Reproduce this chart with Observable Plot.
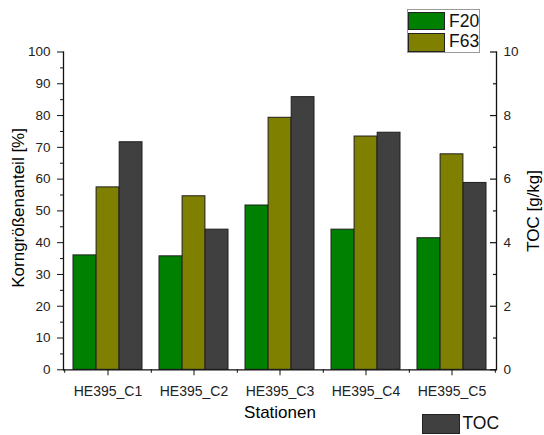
<!DOCTYPE html>
<html>
<head>
<meta charset="utf-8">
<script src="https://cdn.jsdelivr.net/npm/d3@7"></script>
<script src="https://cdn.jsdelivr.net/npm/@observablehq/plot@0.6"></script>
<style>
  body { margin: 0; background: #fff; font-family: "Liberation Sans", Arial, sans-serif; }
  #wrap { position: relative; width: 544px; height: 435px; overflow: hidden; }
  #wrap svg { position: absolute; left: 0; top: 0; }
  .box { position: absolute; box-sizing: border-box; border: 1px solid #9a9a9a; background: #fff; }
  .sw { position: absolute; box-sizing: border-box; border: 1px solid #222; }
  .lt { position: absolute; font-size: 17.5px; line-height: 1; color: #111; white-space: nowrap; }
</style>
</head>
<body>
<div id="wrap"></div>
<script>
// Grain-size fractions (%) and total organic carbon (g/kg) per station
const stations = ["HE395_C1", "HE395_C2", "HE395_C3", "HE395_C4", "HE395_C5"];
const f20 = [36.0, 35.7, 51.7, 44.1, 41.4];
const f63 = [57.4, 54.6, 79.3, 73.4, 67.8];
const toc = [7.16, 4.41, 8.58, 7.46, 5.88];

const leftTicks = [0, 10, 20, 30, 40, 50, 60, 70, 80, 90, 100];
const leftMinor = [5, 15, 25, 35, 45, 55, 65, 75, 85, 95];
const rightTicks = [0, 2, 4, 6, 8, 10];
const rightMinor = [1, 3, 5, 7, 9];

const seriesNames = ["F20", "F63", "TOC"];
const seriesColors = ["#008000", "#808000", "#404040"];

// The TOC axis (0–10 g/kg) shares the plot's y range with the percent axis (0–100 %)
const TOC_FACTOR = 10;

const W = 544, H = 435;
const mL = 63, mR = 48, mT = 51.5, mB = 65.7;
const innerW = W - mL - mR;
const step = innerW / stations.length;
const third = (step * 0.8) / 3;
const half = step / 2;

const rows = stations.map((s, i) => ({
  station: s,
  F20: f20[i],
  F63: f63[i],
  TOC: toc[i] * TOC_FACTOR
}));

const font = '"Liberation Sans", Arial, sans-serif';
const axisColor = "#111";

const bars = seriesNames.map((k, j) =>
  Plot.barY(rows, {
    x: "station",
    y: k,
    fill: seriesColors[j],
    stroke: "#1e1e1e",
    strokeWidth: 1,
    insetLeft: j * third,
    insetRight: (2 - j) * third
  })
);

const chart = Plot.plot({
  width: W,
  height: H,
  marginLeft: mL,
  marginRight: mR,
  marginTop: mT,
  marginBottom: mB,
  style: { fontFamily: font, fontSize: "13.5px", color: axisColor, background: "transparent" },
  x: { domain: stations, paddingInner: 0.2, paddingOuter: 0.1 },
  y: { domain: [0, 100] },
  marks: [
    ...bars,
    // axis lines
    Plot.ruleY([0], { stroke: axisColor, strokeWidth: 1.3 }),
    Plot.frame({ anchor: "left", stroke: axisColor, strokeWidth: 1.3 }),
    Plot.frame({ anchor: "right", stroke: axisColor, strokeWidth: 1.3 }),
    // left axis: percent
    Plot.axisY({ ticks: leftTicks, tickSize: 6, tickPadding: 7, label: null, fontSize: 13.5, fill: "#222" }),
    Plot.axisY({ ticks: leftMinor, tickSize: 3, tickFormat: () => "", label: null }),
    // right axis: TOC in g/kg, ticks pointing inward
    Plot.axisY({
      anchor: "right",
      ticks: rightTicks.map((v) => v * TOC_FACTOR),
      tickFormat: (v) => String(v / TOC_FACTOR),
      tickSize: 0,
      tickPadding: 7,
      label: null,
      fontSize: 13.5,
      fill: "#222"
    }),
    Plot.tickY(rightTicks.map((v) => v * TOC_FACTOR), { y: (d) => d, insetLeft: innerW - 6, stroke: axisColor, strokeWidth: 1.2 }),
    Plot.tickY(rightMinor.map((v) => v * TOC_FACTOR), { y: (d) => d, insetLeft: innerW - 3, stroke: axisColor, strokeWidth: 1.2 }),
    // bottom axis: stations, with minor ticks on the band boundaries
    Plot.axisX({ tickSize: 6, tickPadding: 10.5, label: null, fontSize: 14, fill: "#222" }),
    Plot.axisX({ ticks: stations, tickSize: 3.5, tickFormat: () => "", dx: half, label: null }),
    Plot.axisX({ ticks: [stations[0]], tickSize: 3.5, tickFormat: () => "", dx: -half, label: null }),
    // axis titles
    Plot.text(["Stationen"], { text: (d) => d, frameAnchor: "bottom", dy: 48, fontSize: 17, fill: "#000" }),
    Plot.text(["Korngrößenanteil [%]"], { text: (d) => d, frameAnchor: "left", textAnchor: "middle", dx: -45, dy: -3, rotate: -90, fontSize: 17, fill: "#000" }),
    Plot.text(["TOC [g/kg]"], { text: (d) => d, frameAnchor: "right", textAnchor: "middle", dx: 37, rotate: -90, fontSize: 17, fill: "#000" })
  ]
});

const wrap = document.getElementById("wrap");
wrap.appendChild(chart);

// Legends: F20/F63 boxed at the top right, TOC below the axis
function el(cls, css, text) {
  const d = document.createElement("div");
  d.className = cls;
  Object.assign(d.style, css);
  if (text) d.textContent = text;
  wrap.appendChild(d);
  return d;
}
el("box", { left: "407px", top: "9px", width: "73px", height: "44px" });
el("sw", { left: "407.5px", top: "11.5px", width: "37.5px", height: "18.5px", background: seriesColors[0] });
el("sw", { left: "407.5px", top: "32.5px", width: "37.5px", height: "19.5px", background: seriesColors[1] });
el("lt", { left: "449px", top: "12.5px" }, seriesNames[0]);
el("lt", { left: "449px", top: "32.5px" }, seriesNames[1]);
el("sw", { left: "421.5px", top: "414px", width: "38px", height: "19.5px", background: seriesColors[2] });
el("lt", { left: "462.5px", top: "414.5px" }, seriesNames[2]);
</script>
</body>
</html>
